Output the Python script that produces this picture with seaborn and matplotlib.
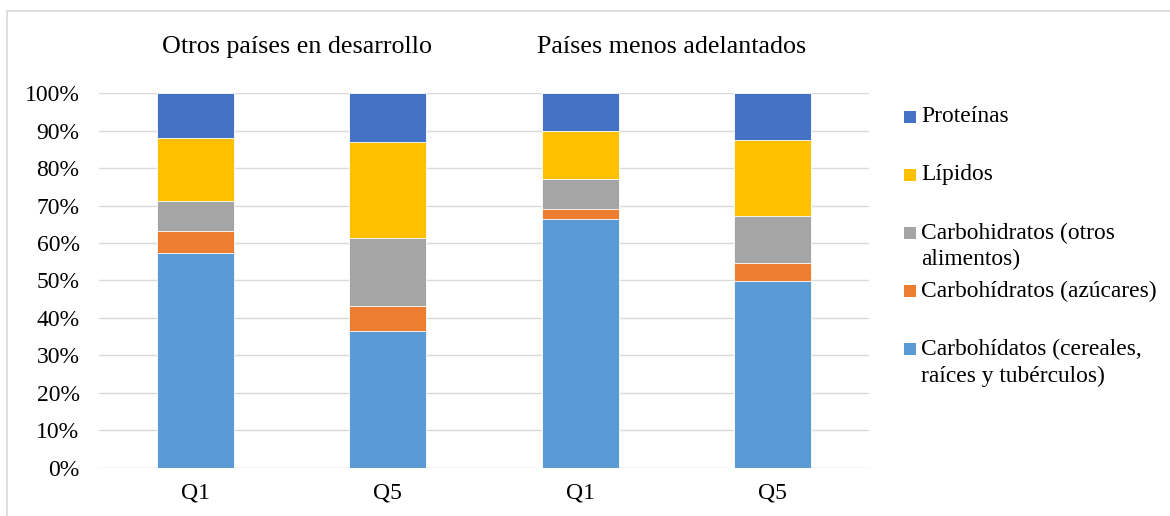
import matplotlib
matplotlib.use("Agg")
import matplotlib.pyplot as plt
from matplotlib.patches import Rectangle
from matplotlib.lines import Line2D
import numpy as np
import pandas as pd
import seaborn as sns

# Share of dietary energy by source (%), per income quintile and country group
groups = ["Otros países en desarrollo", "Países menos adelantados"]
quintiles = ["Q1", "Q5", "Q1", "Q5"]
cereales = [57.3, 36.4, 66.3, 49.9]
azucares = [5.9, 6.9, 2.9, 4.9]
otros = [8.0, 18.0, 7.9, 12.5]
lipidos = [16.9, 25.8, 12.8, 20.1]
proteinas = [11.9, 12.9, 10.1, 12.6]

series_labels = [
    "Carbohídatos (cereales,\nraíces y tubérculos)",
    "Carbohídratos (azúcares)",
    "Carbohidratos (otros\nalimentos)",
    "Lípidos",
    "Proteínas",
]
series_values = [cereales, azucares, otros, lipidos, proteinas]
colors = ["#5B9BD5", "#ED7D31", "#A5A5A5", "#FFC000", "#4472C4"]

sns.set_theme(style="white")
plt.rcParams["font.family"] = ["Liberation Serif", "DejaVu Serif"]

W, H = 1170, 516
fig = plt.figure(figsize=(W / 100, H / 100), dpi=100)
ax = fig.add_axes([0.0846, 0.0936, 0.6579, 0.7256])

keys = [f"{i}" for i in range(len(quintiles))]
cum = np.cumsum(np.array(series_values), axis=0)

# stacked bars: draw cumulative totals from the top segment down
for k in range(len(series_values) - 1, -1, -1):
    df = pd.DataFrame({"bar": keys, "value": cum[k]})
    sns.barplot(data=df, x="bar", y="value", order=keys, color=colors[k],
                saturation=1, width=0.4, edgecolor="white", linewidth=0.6,
                ax=ax, zorder=3)

ax.set_ylim(0, 100)
ax.set_xlim(-0.5, len(keys) - 0.5)
ax.set_yticks(np.arange(0, 101, 10))
ax.set_yticklabels([f"{v}%" for v in range(0, 101, 10)])
ax.set_xticks(range(len(keys)))
ax.set_xticklabels(quintiles)
ax.set_xlabel("")
ax.set_ylabel("")
ax.yaxis.grid(True, color="#D9D9D9", linewidth=1.0, zorder=0)
ax.xaxis.grid(False)
for s in ax.spines.values():
    s.set_visible(False)
ax.tick_params(axis="y", length=0, pad=14, labelsize=17, labelcolor="black")
ax.tick_params(axis="x", length=0, pad=11, labelsize=17, labelcolor="black")

# group headings above each pair of bars
for g, xc in zip(groups, [297.5, 671.5]):
    fig.text(xc / W, 1 - 47 / H, g, ha="center", va="center",
             fontsize=18.7, color="black")

# legend, listed top to bottom
legend_rows = [
    (4, [117]),
    (3, [175]),
    (2, [233, 259]),
    (1, [291]),
    (0, [349, 376]),
]
for k, ys in legend_rows:
    y0 = ys[0]
    fig.patches.append(Rectangle((904 / W, 1 - (y0 + 6) / H), 12 / W, 12 / H,
                                 transform=fig.transFigure, facecolor=colors[k],
                                 edgecolor="none"))
    for line, y in zip(series_labels[k].split("\n"), ys):
        fig.text(921 / W, 1 - y / H, line, ha="left", va="center",
                 fontsize=16.9, color="black")

# chart frame
fig.lines.append(Line2D([7 / W, 1], [1 - 10.5 / H, 1 - 10.5 / H],
                        transform=fig.transFigure, color="#D9D9D9", linewidth=1.2))
fig.lines.append(Line2D([7 / W, 7 / W], [0, 1 - 10.5 / H],
                        transform=fig.transFigure, color="#D9D9D9", linewidth=1.2))

fig.savefig("out.png", dpi=100)
